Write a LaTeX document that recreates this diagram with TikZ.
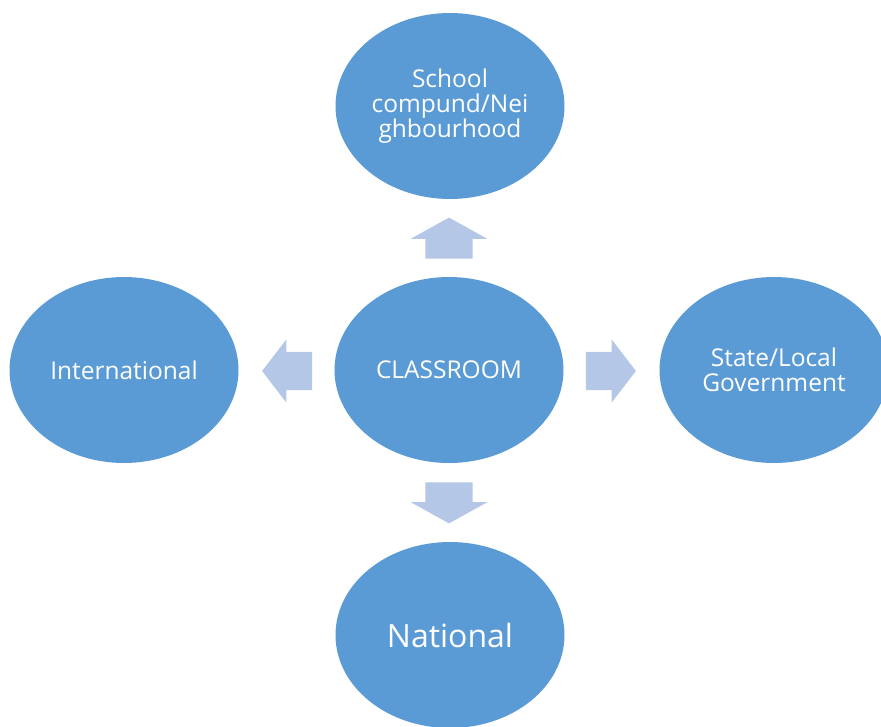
\documentclass[tikz,border=0pt]{standalone}
\usepackage{fontspec}
\setmainfont{Open Sans}
\usetikzlibrary{shapes.geometric, shapes.arrows, calc}

\definecolor{bubble}{HTML}{5B9BD5}
\definecolor{pointer}{HTML}{B4C7E7}

\begin{document}
\begin{tikzpicture}[x=1pt, y=-1pt,
  area/.style={ellipse, fill=bubble, text=white, inner sep=0pt, align=center,
    minimum width=229pt, minimum height=186pt, font=\fontsize{24.5}{25}\selectfont},
  vpointer/.style={single arrow, fill=pointer, inner xsep=0pt, inner ysep=23.5pt,
    minimum height=41pt, minimum width=76pt, single arrow head extend=14.5pt,
    single arrow tip angle=122, anchor=tail},
  hpointer/.style={single arrow, fill=pointer, inner xsep=0pt, inner ysep=19pt,
    minimum height=50pt, minimum width=63pt, single arrow head extend=12.5pt,
    single arrow tip angle=105, anchor=tail}]
\useasboundingbox (0,0) rectangle (881,726);

\node[area] at (449,370) (classroom) {CLASSROOM};
\node[area] at (450,106) (school) {School\\compund/Nei\\ghbourhood};
\node[area] at (124,370) (intl) {International};
\node[area] at (774,370) (state) {State/Local\\Government};
\node[area, font=\fontsize{32}{34}\selectfont] at (450,635) (national) {National};

%pointers out of the classroom
\node[vpointer, rotate=90] at ($(classroom.north)+(0,-18)$) (toschool) {};
\node[hpointer, rotate=180] at ($(classroom.west)+(-22,1)$) (tointl) {};
\node[hpointer] at ($(classroom.east)+(22,1)$) (tostate) {};
\node[vpointer, rotate=-90] at ($(classroom.south)+(0,19)$) (tonational) {};

\end{tikzpicture}
\end{document}
